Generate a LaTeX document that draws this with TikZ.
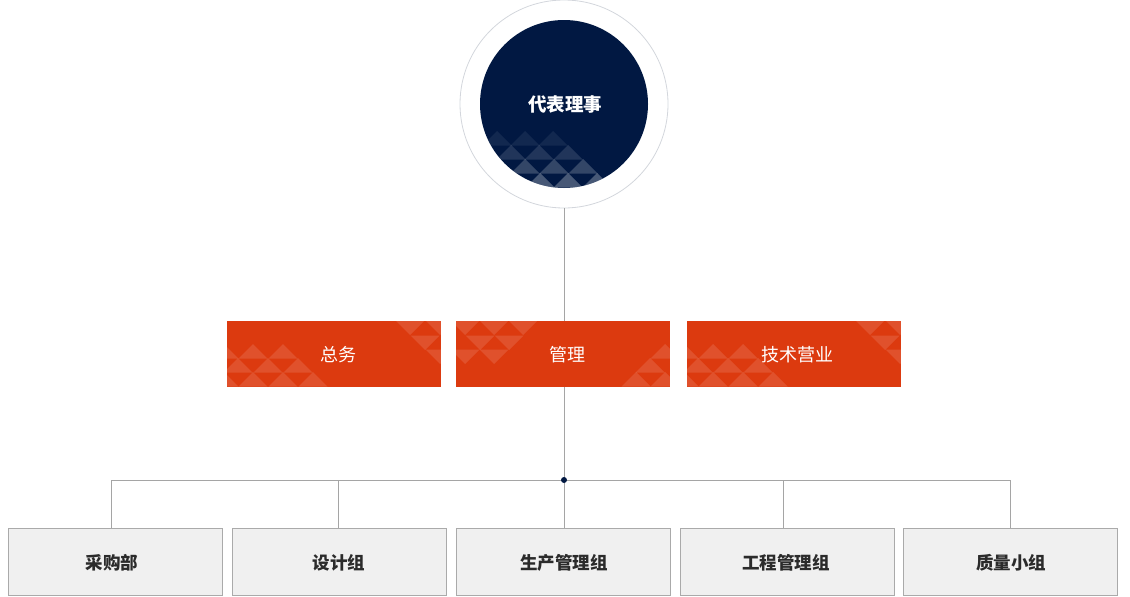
\documentclass[tikz,border=0pt]{standalone}
\usepackage{fontspec}
\setmainfont{Noto Sans CJK SC}
\definecolor{navyc}{HTML}{011842}
\definecolor{orangec}{HTML}{DC3A0F}
\definecolor{boxgray}{HTML}{F0F0F0}
\definecolor{boxborder}{HTML}{AAAAAA}
\definecolor{linegray}{HTML}{A5A5A5}
\definecolor{circgray}{HTML}{D3D6DC}
\definecolor{textdark}{HTML}{2B2B2B}
\newcommand\utri[3]{\fill[white, fill opacity=#3] (#1,#2) -- ++(14.5,14.5) -- ++(-29,0) -- cycle;}
\newcommand\dtri[3]{\fill[white, fill opacity=#3] (#1,#2) -- ++(14.5,-14.5) -- ++(-29,0) -- cycle;}
\newcommand\leftpattern{%
  \utri{224}{344}{0.12}\utri{253}{344}{0.12}\utri{283}{344}{0.12}
  \utri{238}{358}{0.12}\utri{268}{358}{0.12}\utri{298}{358}{0.12}
  \utri{224}{372}{0.12}\utri{253}{372}{0.12}\utri{283}{372}{0.12}\utri{313}{372}{0.12}
  \dtri{410}{335}{0.12}\dtri{440}{335}{0.12}
  \dtri{425}{350}{0.12}
  \dtri{440}{364}{0.12}}
\begin{document}
\begin{tikzpicture}[x=1pt,y=-1pt,
  conn/.style={draw=linegray,line width=0.8pt},
  orangebox/.style={fill=orangec, minimum width=214pt, minimum height=66pt, inner sep=0pt},
  orangetext/.style={text=white, font=\fontsize{18}{21}\selectfont},
  subbox/.style={fill=boxgray, draw=boxborder, line width=0.8pt, minimum width=214pt, minimum height=67pt, inner sep=0pt},
  subtext/.style={text=textdark, font=\bfseries\fontsize{17.5}{21}\selectfont}]
\useasboundingbox (0,0) rectangle (1130,597);
% top circle
\node[circle, draw=circgray, line width=0.8pt, minimum size=208pt, inner sep=0pt] (outer) at (564,104) {};
\node[circle, fill=navyc, minimum size=168pt, inner sep=0pt] (rep) at (564,104) {};
\begin{scope}
  \clip (564,104) circle (84pt);
  \utri{497}{131}{0.07}\utri{525}{131}{0.07}\utri{553}{131}{0.07}
  \utri{511}{145}{0.13}\utri{539}{145}{0.13}\utri{568}{145}{0.13}
  \utri{525}{159}{0.2}\utri{554}{159}{0.2}\utri{583}{159}{0.2}
  \utri{540}{173}{0.28}\utri{568}{173}{0.28}\utri{597}{173}{0.28}
\end{scope}
\node[text=white, font=\bfseries\fontsize{18.5}{22}\selectfont] (reptext) at (565,104) {代表理事};
% middle boxes
\node[orangebox] (g1) at (334,354) {};
\node[orangebox] (g2) at (563,354) {};
\node[orangebox] (g3) at (794,354) {};
\begin{scope}
  \clip (227,321) rectangle (441,387);
  \leftpattern
\end{scope}
\begin{scope}
  \clip (456,321) rectangle (670,387);
  \dtri{465}{335}{0.12}\dtri{494}{335}{0.12}\dtri{523}{335}{0.12}
  \dtri{480}{350}{0.12}\dtri{509}{350}{0.12}
  \dtri{465}{364}{0.12}\dtri{494}{364}{0.12}
  \utri{665}{344}{0.12}
  \utri{650}{358}{0.12}
  \utri{636}{372}{0.12}\utri{665}{372}{0.12}
\end{scope}
\begin{scope}
  \clip (687,321) rectangle (901,387);
  \begin{scope}[xshift=460pt]
    \leftpattern
  \end{scope}
\end{scope}
\node[orangetext] (t1) at (338,355) {总务};
\node[orangetext] (t2) at (567,355) {管理};
\node[orangetext] (t3) at (797,355) {技术营业};
% bottom boxes
\node[subbox] (b1) at (115,561.5) {};
\node[subbox] (b2) at (339,561.5) {};
\node[subbox] (b3) at (563,561.5) {};
\node[subbox] (b4) at (787,561.5) {};
\node[subbox] (b5) at (1010,561.5) {};
\node[subtext] (s1) at (112,563) {采购部};
\node[subtext] (s2) at (339,563) {设计组};
\node[subtext] (s3) at (564,563) {生产管理组};
\node[subtext] (s4) at (786,563) {工程管理组};
\node[subtext] (s5) at (1011,563) {质量小组};
% connectors
\coordinate (j) at (564,480);
\coordinate (l) at (111,480);
\coordinate (r) at (1010,480);
\draw[conn] (outer.south) -- (outer.south |- g2.north);
\draw[conn] (outer.south |- g2.south) -- (j);
\draw[conn] (l) -- (r);
\draw[conn] (l) -- (l |- b1.north);
\draw[conn] (r) -- (r |- b5.north);
\draw[conn] (338,480) -- (338,528);
\draw[conn] (j) -- (j |- b3.north);
\draw[conn] (783,480) -- (783,528);
\fill[navyc] (j) circle (3pt);
\end{tikzpicture}
\end{document}
